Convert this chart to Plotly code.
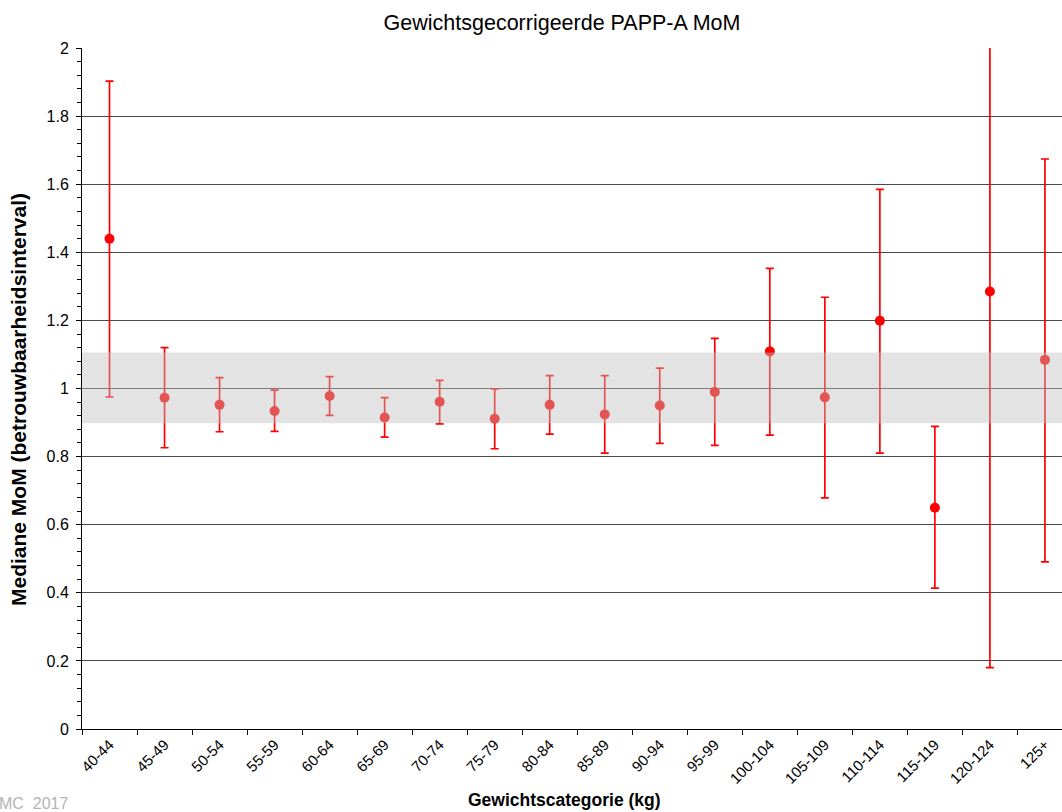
import plotly.graph_objects as go

# Weight categories (kg)
categories = ["40-44", "45-49", "50-54", "55-59", "60-64", "65-69", "70-74", "75-79",
              "80-84", "85-89", "90-94", "95-99", "100-104", "105-109", "110-114",
              "115-119", "120-124", "125+"]

# Median MoM per category with its confidence interval
median_mom = [1.440, 0.973, 0.952, 0.934, 0.978, 0.915, 0.961, 0.911, 0.952,
              0.924, 0.950, 0.990, 1.109, 0.974, 1.199, 0.650, 1.285, 1.084]
ci_lower = [0.975, 0.826, 0.873, 0.874, 0.921, 0.857, 0.896, 0.823, 0.866,
            0.810, 0.839, 0.833, 0.863, 0.679, 0.810, 0.414, 0.180, 0.491]
ci_upper = [1.903, 1.120, 1.032, 0.995, 1.035, 0.973, 1.024, 0.999, 1.038,
            1.038, 1.060, 1.147, 1.353, 1.268, 1.585, 0.889, 2.400, 1.674]

# Reference band around MoM = 1
band_low = 0.898
band_high = 1.106

y_ticks = [0, 0.2, 0.4, 0.6, 0.8, 1, 1.2, 1.4, 1.6, 1.8, 2]

FONT = "Arial, 'Liberation Sans', sans-serif"

err_plus = [u - m for u, m in zip(ci_upper, median_mom)]
err_minus = [m - l for m, l in zip(median_mom, ci_lower)]

fig = go.Figure()
fig.add_trace(go.Scatter(
    x=categories,
    y=median_mom,
    mode="markers",
    marker=dict(color="#ff0000", size=10),
    error_y=dict(type="data", symmetric=False, array=err_plus, arrayminus=err_minus,
                 color="#ff0000", thickness=1.7, width=4),
    showlegend=False,
    hoverinfo="x+y",
))

# Semi-transparent grey band drawn over the markers
fig.add_shape(type="rect", xref="paper", yref="y", x0=0, x1=1,
              y0=band_low, y1=band_high, layer="above",
              line=dict(width=0), fillcolor="rgba(192,192,192,0.44)")

fig.update_layout(
    width=1062, height=812,
    margin=dict(l=82, r=0, t=48, b=83),
    paper_bgcolor="white", plot_bgcolor="white",
    font=dict(family=FONT, color="black"),
    title=dict(text="Gewichtsgecorrigeerde PAPP-A MoM", x=562 / 1062, xanchor="center",
               xref="container", y=1 - 22 / 812, yanchor="middle", yref="container",
               font=dict(size=21.5, color="black")),
    xaxis=dict(type="category", range=[-0.5, 17.31], tickson="boundaries",
               ticks="outside", ticklen=5, tickcolor="black", tickwidth=1,
               showline=True, linecolor="black", linewidth=1,
               showgrid=False, tickangle=-45,
               tickfont=dict(size=15, family=FONT, color="black")),
    yaxis=dict(range=[0, 2], tickvals=y_ticks, ticks="outside", ticklen=5,
               tickcolor="black", tickwidth=1, ticklabelstandoff=4,
               minor=dict(dtick=0.04, ticks="outside", ticklen=4, tickcolor="black",
                          showgrid=False),
               showline=True, linecolor="black", linewidth=1,
               showgrid=True, gridcolor="#4a4a4a", gridwidth=1, zeroline=False,
               tickfont=dict(size=16, family=FONT, color="black")),
    annotations=[
        dict(text="<b>Gewichtscategorie (kg)</b>", xref="paper", yref="paper",
             x=(564 - 82) / 980, y=-(800 - 729) / 681, xanchor="center", yanchor="middle",
             showarrow=False, font=dict(size=17.5, family=FONT, color="black")),
        dict(text="<b>Mediane MoM (betrouwbaarheidsinterval)</b>", xref="paper", yref="paper",
             x=-(82 - 18) / 980, y=(729 - 400) / 681, xanchor="center", yanchor="middle",
             textangle=-90, showarrow=False,
             font=dict(size=21, family=FONT, color="black")),
        dict(text="MC  2017", xref="paper", yref="paper",
             x=-(82 + 3) / 980, y=-(803 - 729) / 681, xanchor="left", yanchor="middle",
             showarrow=False, font=dict(size=16, family=FONT, color="#b4b4b4")),
    ],
)

fig.write_html("out.html")
